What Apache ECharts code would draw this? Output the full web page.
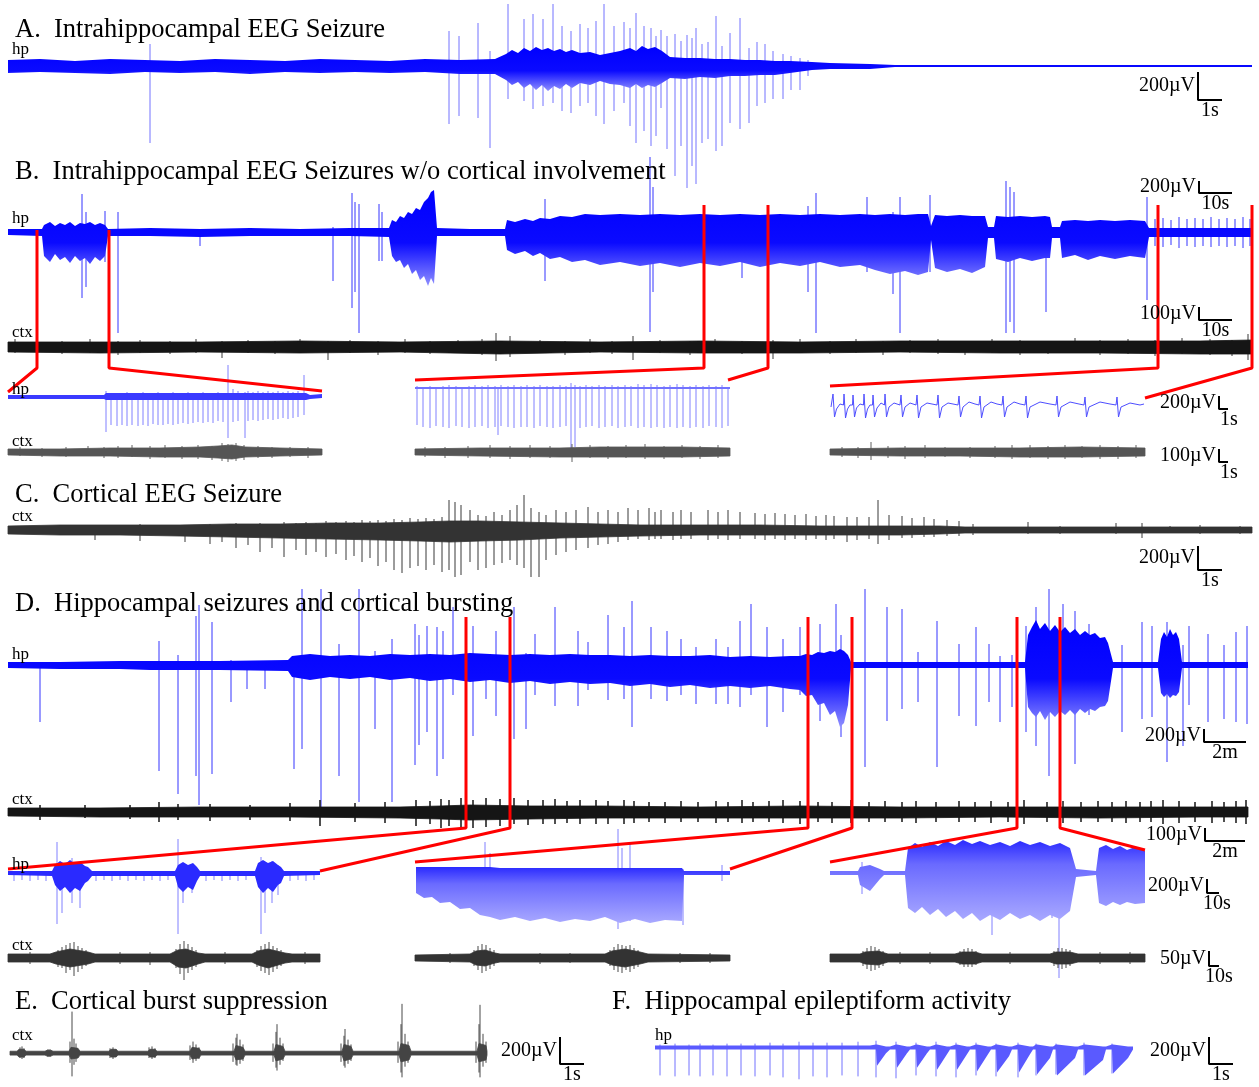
<!DOCTYPE html>
<html><head><meta charset="utf-8">
<script src="https://cdn.jsdelivr.net/npm/echarts@6/dist/echarts.min.js"></script>
<style>html,body{margin:0;padding:0;background:#fff}#c{width:1259px;height:1087px}</style>
</head><body><div id="c"></div><script>
// ================= DATA (time in trace units, amplitude up = positive) =================
// A: intrahippocampal seizure  [t, upper, lower]
const aHpEnv = [[8,6,-7],[40,7,-6],[75,5,-7],[110,7,-8],[145,6,-6],[180,5,-7],[215,7,-6],[250,6,-8],[285,5,-6],[320,7,-7],[355,6,-6],[390,5,-7],[425,7,-6],[460,6,-8],[495,7,-8],[506,12,-14],[512,16,-19],[518,13,-16],[524,18,-22],[530,15,-18],[536,19,-24],[542,16,-19],[548,18,-25],[554,15,-20],[560,17,-23],[566,14,-18],[572,16,-22],[580,13,-17],[590,14,-19],[600,11,-15],[610,13,-18],[620,15,-19],[630,18,-22],[636,15,-18],[642,20,-22],[648,17,-19],[655,19,-21],[662,15,-17],[670,9,-12],[685,8,-13],[700,8,-11],[715,7,-12],[730,7,-10],[745,6,-10],[760,6,-9],[775,5,-9],[790,5,-7],[812,4,-4],[830,3,-3],[870,2,-3],[895,1,-1],[1252,1,-1]];
const aHpSpikes = [[150,22,-77],[449,35,-58],[459,30,-50],[478,43,-52],[490,15,-82],[508,62,-33],[524,47,-35],[533,52,-43],[543,47,-40],[553,62,-37],[562,40,-45],[571,35,-47],[580,42,-40],[588,38,-37],[596,45,-50],[604,62,-58],[614,40,-45],[624,44,-37],[630,38,-60],[636,53,-77],[644,40,-65],[651,38,-80],[656,30,-70],[661,36,-42],[667,30,-83],[675,32,-110],[681,25,-80],[687,31,-122],[692,28,-100],[696,38,-118],[702,22,-77],[708,24,-73],[716,50,-85],[722,20,-80],[730,33,-57],[740,48,-63],[749,18,-57],[757,24,-40],[765,22,-37],[773,15,-33],[783,12,-33],[791,10,-24],[800,8,-24],[808,6,-10]];
// B: hp + ctx overview
const bHpEnv = [[8,3,-3],[42,3,-4],[44,7,-24],[50,10,-30],[55,6,-22],[60,9,-28],[65,7,-25],[70,10,-31],[75,6,-24],[80,9,-29],[85,8,-26],[90,10,-32],[95,7,-25],[100,9,-29],[105,7,-24],[108,3,-4],[150,4,-4],[200,3,-5],[250,4,-4],[300,3,-4],[350,4,-4],[389,4,-5],[392,12,-24],[396,10,-30],[400,16,-28],[404,14,-36],[408,20,-32],[412,18,-42],[416,24,-38],[420,22,-48],[424,30,-44],[428,34,-54],[431,40,-46],[434,42,-52],[437,4,-4],[470,3,-4],[505,3,-4],[507,12,-18],[515,10,-22],[525,13,-19],[533,11,-24],[540,14,-21],[550,13,-27],[560,16,-25],[572,15,-30],[585,18,-28],[600,17,-33],[620,18,-30],[640,17,-34],[660,18,-31],[680,17,-35],[700,18,-31],[720,17,-34],[740,18,-30],[760,17,-35],[780,18,-31],[800,17,-34],[820,18,-30],[840,17,-35],[860,18,-33],[875,17,-38],[890,18,-42],[905,17,-39],[918,18,-43],[928,18,-40],[931,6,-8],[935,17,-36],[947,16,-40],[960,17,-37],[972,16,-41],[985,16,-35],[988,5,-6],[994,5,-6],[996,16,-27],[1008,15,-30],[1020,16,-26],[1032,15,-29],[1045,16,-26],[1050,15,-26],[1052,5,-6],[1060,5,-6],[1062,11,-26],[1075,12,-23],[1088,11,-28],[1100,12,-24],[1115,11,-27],[1130,12,-24],[1145,11,-26],[1149,4,-5],[1252,4,-5]];
const bHpSpikes = [[82,38,-66],[86,20,-55],[105,21,-30],[118,20,-101],[200,3,-14],[333,5,-49],[352,39,-76],[355,30,-60],[359,28,-101],[379,28,-29],[382,20,-29],[545,33,-49],[650,75,-100],[653,45,-60],[742,10,-46],[808,26,-60],[816,39,-101],[867,35,-40],[893,20,-62],[900,35,-101],[930,37,-40],[1006,51,-101],[1010,45,-90],[1014,40,-101],[1046,15,-80],[1147,35,-68],[1155,13,-14],[1163,14,-15],[1171,12,-13],[1179,15,-16],[1187,13,-14],[1195,14,-15],[1203,13,-14],[1211,15,-15],[1219,13,-14],[1227,14,-15],[1235,13,-14],[1243,15,-16],[1250,13,-14]];
const bCtxEnv = [[8,5,-5],[100,5,-6],[200,5,-5],[300,6,-6],[400,5,-5],[500,6,-7],[600,5,-5],[700,6,-6],[800,5,-6],[900,6,-5],[1000,6,-6],[1100,6,-6],[1200,6,-7],[1252,7,-7]];
const bCtxSpikes = [[15,8,-6],[37,7,-9],[62,6,-7],[90,8,-6],[118,6,-8],[140,7,-6],[170,6,-7],[196,8,-6],[222,6,-11],[248,7,-6],[275,6,-7],[300,8,-6],[328,6,-13],[350,7,-6],[378,6,-8],[405,8,-6],[430,6,-7],[458,7,-6],[482,8,-8],[496,14,-14],[510,11,-10],[540,7,-6],[565,6,-8],[590,8,-6],[612,6,-7],[633,11,-13],[660,7,-6],[690,6,-8],[715,8,-6],[742,6,-7],[773,7,-12],[800,8,-6],[830,6,-7],[856,8,-6],[883,6,-8],[910,7,-6],[938,8,-7],[965,6,-8],[992,8,-6],[1020,7,-8],[1048,6,-7],[1075,9,-6],[1100,7,-8],[1128,8,-7],[1155,7,-9],[1182,9,-7],[1210,8,-8],[1232,7,-9],[1248,13,-13]];
// B: zoomed windows
const b1HpEnv = [[8,2,-2],[104,2,-2],[106,4,-3],[306,4,-3],[310,2,-2],[322,3,-1]];
const b1HpSpikes = [[106,6,-35],[111,4,-28],[117,4,-29],[122,4,-28],[127,5,-29],[132,4,-28],[138,4,-29],[143,5,-28],[148,4,-29],[153,4,-27],[158,5,-28],[163,4,-28],[168,4,-27],[173,5,-28],[178,4,-27],[183,4,-26],[188,5,-27],[193,4,-26],[198,4,-25],[203,5,-26],[208,4,-25],[213,4,-26],[218,5,-24],[223,4,-25],[228,32,-41],[233,8,-25],[238,6,-24],[245,5,-41],[248,6,-24],[253,5,-23],[258,6,-24],[263,5,-23],[268,6,-22],[273,5,-23],[278,6,-22],[283,5,-21],[288,6,-22],[293,5,-21],[298,6,-20],[304,22,-18]];
const b2HpEnv = [[415,10,8],[730,10,8]];
const b2HpSpikes = [[417,11,-28],[423,10,-30],[430,11,-31],[436,10,-29],[443,11,-30],[449,12,-31],[456,11,-29],[462,10,-30],[469,11,-31],[475,12,-30],[482,11,-29],[488,12,-31],[495,11,-30],[498,10,-38],[501,12,-29],[508,11,-30],[514,12,-31],[521,11,-30],[527,12,-30],[534,11,-31],[540,12,-29],[547,11,-30],[553,11,-31],[560,12,-30],[566,11,-29],[571,14,-53],[575,12,-50],[580,11,-31],[586,12,-30],[592,11,-29],[599,12,-31],[605,11,-30],[612,12,-29],[618,11,-31],[625,12,-30],[631,11,-29],[638,13,-31],[644,12,-30],[651,13,-31],[657,12,-30],[664,11,-31],[670,12,-30],[677,13,-31],[683,12,-30],[690,11,-31],[696,12,-30],[703,11,-31],[709,12,-29],[716,11,-30],[722,12,-31],[728,10,-29]];
const b3HpLine = [[831,-2],[833,11],[834.5,-12],[836.5,-4],[840,1],[843.5,0],[844,11],[845.5,-13],[847.5,-4],[850,0],[852.5,0],[853,10],[854.5,-12],[856.5,-3],[860,1],[863.5,0],[864,11],[865.5,-13],[867.5,-4],[870,0],[872.5,0],[873,10],[874.5,-12],[877,-3],[881,2],[884.5,0],[885,11],[886.5,-12],[889,-2],[894,2],[900,0],[901,10],[902.5,-12],[905,-2],[910,2],[916,0],[917,10],[918.5,-13],[921,-2],[927,2],[932,1],[937,0],[938,10],[939.5,-13],[942,-2],[948,2],[953,1],[958,0],[959,9],[960.5,-12],[963,-2],[969,3],[975,1],[979,0],[980,9],[981.5,-13],[984,-2],[991,3],[997,1],[1002,0],[1003,9],[1004.5,-12],[1007,-2],[1014,3],[1020,1],[1025,0],[1026,9],[1027.5,-13],[1030,-2],[1040,3],[1050,1],[1056,0],[1057,9],[1058.5,-12],[1061,-2],[1070,3],[1079,1],[1084,0],[1085,8],[1086.5,-12],[1089,-2],[1100,3],[1110,1],[1116,0],[1117,8],[1118.5,-12],[1121,-2],[1130,2],[1140,0],[1144,1]];
const b1CtxEnv = [[8,3,-3],[60,3,-4],[110,4,-4],[160,4,-5],[200,5,-5],[218,6,-6],[232,7,-7],[245,5,-5],[280,4,-4],[322,3,-3]];
const b1CtxSpikes = [[20,5,-4],[42,4,-5],[66,5,-5],[88,6,-4],[104,5,-6],[118,6,-6],[132,7,-5],[150,6,-7],[165,7,-6],[182,6,-7],[198,7,-7],[212,6,-8],[222,9,-9],[228,8,-10],[236,9,-9],[244,7,-8],[258,6,-6],[272,5,-6],[290,5,-5],[308,5,-6]];
const b2CtxEnv = [[415,3,-3],[480,4,-4],[560,4,-5],[600,5,-5],[680,5,-5],[730,4,-4]];
const b2CtxSpikes = [[425,5,-5],[445,5,-6],[468,6,-6],[490,7,-6],[510,6,-7],[530,7,-6],[550,6,-6],[572,8,-10],[590,7,-6],[608,6,-7],[626,7,-6],[645,8,-7],[664,6,-7],[682,7,-6],[700,6,-7],[718,7,-6]];
const b3CtxEnv = [[830,3,-3],[900,4,-4],[960,4,-4],[1020,4,-5],[1080,5,-5],[1145,4,-4]];
const b3CtxSpikes = [[842,5,-5],[858,5,-6],[871,10,-8],[888,6,-6],[905,6,-7],[925,7,-6],[945,5,-5],[970,5,-6],[995,6,-6],[1012,7,-7],[1030,7,-6],[1048,6,-7],[1065,7,-7],[1082,6,-6],[1100,7,-7],[1118,6,-7],[1136,7,-6]];
// C: cortical seizure
const cCtxEnv = [[8,4,-4],[60,5,-5],[120,5,-5],[180,5,-6],[230,6,-7],[280,6,-8],[330,7,-9],[380,7,-10],[420,8,-11],[450,9,-12],[480,9,-11],[520,8,-10],[560,7,-8],[600,6,-7],[640,5,-6],[700,5,-5],[760,5,-5],[820,4,-5],[870,4,-5],[900,4,-5],[940,4,-4],[965,3,-3],[1252,3,-3]];
const cCtxSpikes = [[95,4,-10],[140,6,-11],[185,5,-12],[210,6,-14],[222,5,-12],[236,7,-18],[248,6,-15],[260,7,-22],[272,6,-18],[284,8,-27],[296,7,-20],[306,8,-25],[316,7,-22],[326,9,-27],[336,8,-24],[346,9,-30],[354,8,-26],[362,10,-32],[370,9,-28],[378,10,-36],[386,9,-32],[394,11,-40],[402,10,-43],[410,12,-38],[418,11,-36],[426,12,-40],[434,11,-35],[442,13,-42],[449,30,-40],[455,28,-47],[461,25,-45],[470,20,-32],[478,15,-40],[486,14,-38],[494,18,-35],[502,15,-33],[510,20,-30],[517,25,-35],[524,35,-38],[531,22,-47],[539,18,-47],[546,15,-30],[556,20,-25],[566,18,-22],[576,20,-20],[588,23,-18],[598,18,-15],[608,20,-14],[618,18,-12],[628,22,-10],[638,20,-9],[649,22,-10],[655,18,-9],[661,20,-9],[673,18,-10],[681,20,-9],[691,18,-9],[708,20,-10],[718,18,-9],[728,20,-10],[740,18,-9],[755,17,-9],[765,16,-10],[775,17,-9],[785,16,-10],[795,15,-9],[806,16,-10],[816,14,-9],[826,15,-10],[834,14,-9],[847,13,-12],[857,13,-10],[869,13,-9],[878,30,-14],[889,15,-10],[902,14,-8],[912,12,-8],[924,13,-7],[934,11,-7],[947,10,-6],[959,9,-6],[973,6,-5],[1028,8,-4],[1060,4,-4],[1116,7,-4],[1142,7,-8],[1170,4,-3],[1200,5,-4],[1240,4,-4]];
// D: hp seizures + ctx bursting
const dHpEnv = [[8,3,-3],[60,3,-4],[120,4,-4],[150,4,-5],[220,4,-5],[288,5,-6],[292,9,-12],[310,11,-15],[330,9,-12],[350,10,-14],[370,9,-12],[390,11,-15],[410,10,-13],[430,11,-16],[450,10,-14],[470,12,-17],[490,11,-15],[510,10,-18],[530,11,-16],[550,10,-19],[570,11,-17],[590,10,-19],[610,10,-18],[630,9,-21],[650,10,-19],[670,9,-22],[690,9,-20],[710,10,-23],[730,8,-21],[750,9,-23],[770,8,-21],[790,9,-24],[800,9,-25],[806,11,-31],[812,10,-30],[818,13,-40],[824,12,-38],[830,14,-50],[835,13,-46],[840,16,-62],[844,14,-58],[848,10,-40],[851,3,-3],[1025,3,-3],[1028,30,-42],[1032,38,-48],[1036,45,-52],[1040,36,-46],[1045,42,-55],[1050,34,-47],[1055,40,-52],[1060,33,-46],[1065,38,-50],[1070,32,-45],[1075,36,-50],[1080,30,-44],[1085,34,-48],[1090,30,-44],[1095,32,-46],[1100,27,-42],[1105,28,-41],[1108,22,-36],[1113,3,-3],[1158,3,-3],[1161,26,-28],[1164,33,-32],[1167,28,-29],[1170,36,-33],[1173,30,-30],[1176,33,-31],[1179,26,-27],[1182,3,-3],[1248,3,-3]];
const dHpSpikes = [[40,2,-57],[159,24,-106],[178,10,-129],[196,49,-111],[199,60,-140],[212,43,-109],[231,5,-37],[247,4,-24],[265,4,-24],[294,9,-104],[302,76,-84],[321,76,-145],[339,21,-111],[359,76,-137],[375,14,-64],[392,26,-137],[415,41,-100],[419,30,-80],[427,39,-67],[437,38,-111],[443,34,-94],[453,58,-30],[473,39,-71],[486,10,-34],[496,34,-51],[514,58,-74],[526,12,-64],[535,31,-30],[555,58,-41],[578,34,-41],[588,23,-25],[608,50,-35],[624,38,-34],[632,64,-62],[651,38,-34],[667,34,-36],[681,26,-30],[696,18,-39],[716,26,-39],[728,18,-39],[740,44,-42],[751,61,-30],[767,38,-62],[783,26,-47],[800,38,-30],[820,41,-56],[836,61,-40],[841,30,-72],[865,76,-102],[887,58,-56],[902,56,-44],[918,13,-37],[937,44,-102],[959,21,-51],[976,38,-61],[989,21,-37],[1000,9,-57],[1012,10,-42],[1026,39,-67],[1036,58,-81],[1049,76,-111],[1063,61,-40],[1075,54,-99],[1089,41,-50],[1122,20,-67],[1142,43,-54],[1152,39,-52],[1167,43,-97],[1183,20,-81],[1189,39,-40],[1208,31,-57],[1224,20,-54],[1236,33,-57],[1247,39,-59]];
const dCtxEnv = [[8,4,-4],[100,4,-5],[200,5,-5],[290,5,-5],[400,5,-6],[440,6,-7],[470,7,-8],[530,6,-7],[600,6,-6],[700,5,-6],[800,6,-6],[900,5,-6],[1000,5,-5],[1100,5,-6],[1200,5,-5],[1248,5,-5]];
const dCtxSpikes = [[40,7,-8],[85,7,-6],[130,7,-7],[159,10,-10],[178,8,-8],[210,8,-9],[250,7,-8],[290,9,-9],[320,12,-14],[355,9,-10],[385,10,-11],[416,12,-14],[430,11,-12],[441,13,-16],[449,12,-14],[461,14,-16],[473,12,-16],[486,14,-15],[500,13,-14],[514,14,-12],[528,12,-13],[543,12,-12],[555,13,-12],[567,11,-11],[580,12,-12],[596,12,-12],[608,11,-12],[624,12,-12],[634,11,-11],[649,10,-10],[665,10,-11],[681,11,-10],[698,10,-10],[716,11,-11],[728,10,-10],[742,12,-11],[753,10,-10],[769,11,-10],[783,12,-11],[800,11,-12],[818,10,-10],[832,10,-11],[851,12,-11],[869,10,-10],[885,11,-10],[902,10,-10],[916,11,-11],[936,10,-10],[959,11,-10],[975,10,-10],[991,11,-11],[1008,10,-10],[1024,12,-12],[1047,10,-10],[1063,11,-11],[1081,10,-10],[1098,11,-10],[1112,10,-10],[1126,11,-11],[1140,10,-10],[1151,11,-10],[1163,12,-12],[1179,11,-11],[1195,10,-10],[1212,11,-11],[1224,10,-10],[1236,11,-11],[1246,12,-12]];
const d1HpEnv = [[8,2,-2],[52,2,-3],[55,8,-12],[60,12,-18],[65,9,-14],[70,13,-20],[75,9,-15],[80,11,-18],[85,7,-10],[88,6,-8],[92,2,-3],[175,2,-3],[178,8,-14],[183,11,-19],[188,8,-14],[193,10,-17],[197,6,-8],[200,2,-3],[255,2,-3],[258,10,-14],[263,13,-20],[268,10,-15],[273,12,-19],[278,8,-12],[281,6,-10],[284,2,-3],[320,2,-2]];
const d1HpSpikes = [[14,2,-8],[22,2,-7],[30,2,-8],[38,2,-7],[46,2,-8],[57,31,-51],[62,10,-40],[72,15,-30],[80,8,-35],[96,2,-8],[104,2,-7],[112,2,-8],[120,2,-7],[128,2,-8],[136,2,-7],[144,2,-8],[152,2,-7],[160,2,-8],[168,2,-7],[178,34,-61],[183,10,-30],[192,8,-20],[206,2,-8],[214,2,-7],[222,2,-8],[230,2,-7],[238,2,-8],[246,2,-7],[261,16,-61],[265,10,-40],[272,12,-30],[278,8,-22],[290,2,-8],[298,2,-7],[306,2,-8],[314,2,-7]];
const d2HpEnv = [[416,6,-20],[424,6,-25],[432,6,-24],[440,6,-30],[450,6,-29],[460,6,-36],[470,6,-35],[480,6,-42],[490,6,-44],[500,5,-47],[515,5,-44],[530,5,-48],[545,5,-45],[560,5,-49],[575,5,-46],[590,5,-48],[605,5,-44],[620,5,-50],[635,5,-46],[650,5,-50],[665,5,-47],[682,5,-48],[684,2,-2],[730,2,-2]];
const d2HpSpikes = [[485,31,-30],[490,20,-40],[618,44,-56],[622,25,-40],[630,30,-48],[683,4,-52],[722,8,-8]];
const d3HpEnv = [[830,2,-2],[858,2,-2],[860,6,-12],[870,8,-18],[880,4,-6],[884,2,-2],[905,2,-2],[908,25,-35],[915,30,-40],[922,26,-34],[930,31,-42],[938,27,-36],[946,32,-44],[955,28,-38],[963,33,-46],[972,29,-40],[980,32,-48],[990,28,-42],[1000,31,-47],[1010,27,-40],[1020,32,-46],[1030,28,-42],[1040,31,-48],[1050,27,-42],[1060,30,-46],[1070,25,-38],[1076,4,-4],[1096,2,-2],[1099,25,-30],[1106,28,-33],[1113,24,-29],[1120,27,-32],[1127,23,-29],[1135,26,-31],[1145,22,-30]];
const d3HpSpikes = [[862,11,-21],[992,10,-62],[1052,10,-45],[1059,15,-105]];
const d1CtxEnv = [[8,4,-4],[50,4,-4],[56,6,-6],[70,9,-9],[88,6,-6],[95,4,-4],[170,4,-4],[178,8,-9],[186,9,-10],[198,5,-6],[205,4,-4],[252,4,-4],[258,7,-7],[268,9,-10],[285,5,-5],[292,4,-4],[320,4,-4]];
const d1CtxSpikes = [[30,6,-6],[58,8,-9],[62,11,-10],[66,13,-15],[70,15,-12],[74,16,-18],[78,12,-14],[82,10,-11],[86,8,-8],[120,6,-6],[150,6,-7],[176,9,-10],[180,14,-16],[184,17,-22],[188,14,-15],[192,11,-12],[196,8,-9],[225,6,-6],[257,8,-9],[261,12,-13],[265,14,-15],[269,16,-17],[273,12,-14],[277,10,-11],[281,8,-8],[305,6,-6]];
const d2CtxEnv = [[415,3,-3],[470,4,-4],[476,7,-7],[485,8,-8],[495,5,-5],[500,4,-4],[605,4,-4],[612,7,-7],[625,9,-9],[640,6,-6],[648,4,-4],[730,3,-3]];
const d2CtxSpikes = [[450,5,-5],[474,8,-8],[478,12,-12],[482,14,-15],[486,13,-13],[490,10,-11],[494,8,-8],[540,5,-6],[570,5,-5],[610,8,-8],[614,11,-12],[618,14,-14],[622,13,-15],[626,12,-12],[630,13,-14],[634,10,-11],[638,8,-9],[680,5,-5],[710,5,-5]];
const d3CtxEnv = [[830,4,-4],[860,4,-4],[865,6,-6],[878,7,-7],[888,4,-4],[955,4,-4],[962,6,-6],[975,6,-6],[982,4,-4],[1050,4,-4],[1056,6,-6],[1070,6,-6],[1078,4,-4],[1145,4,-4]];
const d3CtxSpikes = [[863,7,-8],[867,10,-11],[871,12,-13],[875,11,-12],[879,9,-10],[883,7,-8],[900,6,-6],[930,6,-6],[960,7,-7],[964,9,-9],[968,10,-9],[972,9,-9],[976,7,-7],[1010,6,-6],[1054,7,-8],[1058,10,-10],[1062,10,-11],[1066,9,-10],[1070,8,-8],[1100,6,-6],[1130,6,-6]];
// E: cortical burst suppression
const eCtxEnv = [[10,2,-2],[17,2,-2],[19,4,-4],[24,4,-4],[26,2,-2],[45,2,-2],[47,3,-3],[51,3,-3],[53,2,-2],[69,2,-2],[71,6,-6],[78,5,-5],[80,2,-2],[109,2,-2],[111,4,-4],[116,4,-4],[118,2,-2],[148,2,-2],[150,4,-4],[155,4,-4],[157,2,-2],[190,2,-2],[192,6,-6],[199,5,-5],[201,2,-2],[234,2,-2],[236,8,-7],[243,6,-6],[245,2,-2],[274,2,-2],[276,9,-8],[283,7,-6],[285,2,-2],[342,2,-2],[344,9,-8],[351,7,-6],[353,2,-2],[399,2,-2],[401,10,-9],[409,8,-7],[411,2,-2],[477,2,-2],[479,10,-9],[486,8,-7],[487,2,-2]];
const eCtxSpikes = [[20,6,-5],[22,7,-6],[24,5,-5],[48,4,-4],[50,4,-4],[70,12,-10],[72,43,-24],[74,15,-12],[76,10,-9],[110,5,-5],[113,6,-6],[116,4,-4],[149,6,-5],[152,7,-6],[155,5,-5],[190,8,-7],[193,12,-10],[196,9,-8],[199,6,-6],[233,10,-9],[236,16,-12],[237,20,-13],[240,14,-11],[243,9,-8],[273,10,-9],[276,22,-15],[277,30,-18],[280,16,-12],[283,10,-8],[341,10,-9],[344,18,-13],[345,25,-15],[348,14,-11],[351,9,-8],[398,12,-10],[401,30,-20],[402,51,-25],[405,20,-14],[408,12,-10],[476,12,-10],[479,30,-20],[480,50,-25],[483,20,-14],[486,12,-10]];
// F: hippocampal epileptiform activity
const fHpEnv = [[655,3,-1],[870,3,-1],[876,4,-1],[877,4,-18],[886,2,-5],[890,2,-1],[896,4,-1],[897,4,-20],[907,2,-5],[910,2,-1],[916,4,-1],[917,4,-20],[927,2,-5],[930,2,-1],[936,4,-1],[937,4,-22],[947,2,-6],[950,2,-1],[956,4,-1],[957,4,-22],[967,2,-6],[970,2,-1],[976,4,-1],[977,4,-24],[988,2,-6],[991,2,-1],[996,4,-1],[997,4,-25],[1009,2,-8],[1012,2,-1],[1018,4,-1],[1019,4,-25],[1030,2,-6],[1033,2,-1],[1036,4,-1],[1037,4,-27],[1050,2,-10],[1053,2,-1],[1056,4,-1],[1057,4,-28],[1075,2,-10],[1078,2,-1],[1084,4,-1],[1085,4,-28],[1103,2,-12],[1106,2,-1],[1112,4,-1],[1113,4,-26],[1128,2,-10],[1133,2,-1]];
const fHpSpikes = [[660,4,-28],[675,5,-29],[689,4,-28],[700,5,-29],[713,4,-28],[727,5,-29],[741,5,-28],[755,5,-29],[770,6,-28],[783,5,-30],[799,7,-32],[813,6,-29],[827,6,-30],[842,6,-28],[858,7,-29],[876,8,-30],[896,7,-31],[916,6,-28],[936,7,-29],[956,6,-30],[976,6,-28],[996,5,-29],[1018,6,-30],[1036,5,-28],[1056,5,-27],[1084,6,-28],[1112,5,-26]];
// Zoom-window connectors and calibration bars (figure coordinates)
const connectorsB = [[[37,230],[37,368],[8,392]],[[109,230],[109,368],[322,391]],[[704,205],[704,368],[415,380]],[[768,205],[768,368],[728,380]],[[1158,205],[1158,368],[830,386]],[[1252,205],[1252,368],[1145,398]]];
const connectorsD = [[[466,617],[466,828],[8,869]],[[510,617],[510,828],[320,871]],[[808,617],[808,828],[415,862]],[[852,617],[852,828],[730,869]],[[1017,617],[1017,828],[830,862]],[[1060,617],[1060,828],[1145,850]]];
const scaleBars = [[[1198,72],[1198,100],[1222,100]],[[1199,181],[1199,193],[1232,193]],[[1199,307],[1199,320],[1232,320]],[[1219,396],[1219,409],[1228,409]],[[1219,449],[1219,462],[1228,462]],[[1198,546],[1198,570],[1222,570]],[[1204,729],[1204,742],[1246,742]],[[1205,828],[1205,841],[1245,841]],[[1207,879],[1207,893],[1219,893]],[[1209,951],[1209,966],[1219,966]],[[560,1037],[560,1064],[584,1064]],[[1209,1037],[1209,1064],[1233,1064]]];
const scaleLabels = [['200\u00B5V','1s'],['200\u00B5V','10s'],['100\u00B5V','10s'],['200\u00B5V','1s'],['100\u00B5V','1s'],['200\u00B5V','1s'],['200\u00B5V','2m'],['100\u00B5V','2m'],['200\u00B5V','10s'],['50\u00B5V','10s'],['200\u00B5V','1s'],['200\u00B5V','1s']];
const titles = ['A.  Intrahippocampal EEG Seizure','B.  Intrahippocampal EEG Seizures w/o cortical involvement','C.  Cortical EEG Seizure','D.  Hippocampal seizures and cortical bursting','E.  Cortical burst suppression','F.  Hippocampal epileptiform activity'];
const channelNames = ['hp','hp','ctx','hp','ctx','ctx','hp','ctx','hp','ctx','ctx','hp'];

// ================= LAYOUT =================
const panels = [
 {x0:8,x1:1252,base:66,up:66,down:125},
 {x0:8,x1:1252,base:232,up:80,down:105},
 {x0:8,x1:1252,base:347,up:20,down:20},
 {x0:8,x1:322,base:397,up:35,down:60},
 {x0:415,x1:730,base:397,up:20,down:60},
 {x0:830,x1:1145,base:405,up:15,down:15},
 {x0:8,x1:322,base:452,up:12,down:12},
 {x0:415,x1:730,base:452,up:12,down:12},
 {x0:830,x1:1145,base:452,up:12,down:12},
 {x0:8,x1:1252,base:530,up:40,down:50},
 {x0:8,x1:1248,base:665,up:80,down:170},
 {x0:8,x1:1248,base:812,up:20,down:20},
 {x0:8,x1:320,base:873,up:40,down:70},
 {x0:415,x1:730,base:873,up:50,down:60},
 {x0:830,x1:1145,base:873,up:40,down:110},
 {x0:8,x1:320,base:958,up:20,down:25},
 {x0:415,x1:730,base:958,up:20,down:25},
 {x0:830,x1:1145,base:958,up:20,down:25},
 {x0:10,x1:487,base:1055,up:55,down:35},
 {x0:655,x1:1133,base:1049,up:15,down:40}
];
const BLUE='#0000ff', MID='#3535ff', LIGHT='#7272ff', CTXC='#151515', GRAYC='#3a3a3a';
const G = (a,b,c,s)=>new echarts.graphic.LinearGradient(0,0,0,1,[{offset:0,color:a},{offset:s,color:b},{offset:1,color:c}]);
const hpGrad = G('#0000ff','#0a0aff','#8f8fff',0.55);
const lightGrad = G('#2a2aff','#6a6aff','#a9a9ff',0.3);

const layers = [
 {p:0,t:'spk',d:aHpSpikes,c:LIGHT,w:1},{p:0,t:'env',d:aHpEnv,f:hpGrad},
 {p:1,t:'spk',d:bHpSpikes,c:MID,w:1},{p:1,t:'env',d:bHpEnv,f:hpGrad},
 {p:2,t:'spk',d:bCtxSpikes,c:'#222',w:0.9},{p:2,t:'env',d:bCtxEnv,f:CTXC,s:CTXC},
 {p:3,t:'spk',d:b1HpSpikes,c:LIGHT,w:0.9},{p:3,t:'env',d:b1HpEnv,f:'#3a3aff'},
 {p:4,t:'spk',d:b2HpSpikes,c:LIGHT,w:0.9},{p:4,t:'env',d:b2HpEnv,f:LIGHT},
 {p:5,t:'line',d:b3HpLine,c:'#4d4dff',w:1},
 {p:6,t:'spk',d:b1CtxSpikes,c:GRAYC,w:0.8},{p:6,t:'env',d:b1CtxEnv,f:'#555',s:'#555'},
 {p:7,t:'spk',d:b2CtxSpikes,c:GRAYC,w:0.8},{p:7,t:'env',d:b2CtxEnv,f:'#555',s:'#555'},
 {p:8,t:'spk',d:b3CtxSpikes,c:GRAYC,w:0.8},{p:8,t:'env',d:b3CtxEnv,f:'#555',s:'#555'},
 {p:9,t:'spk',d:cCtxSpikes,c:'#222',w:0.9},{p:9,t:'env',d:cCtxEnv,f:'#333',s:'#333'},
 {p:10,t:'spk',d:dHpSpikes,c:MID,w:1},{p:10,t:'env',d:dHpEnv,f:hpGrad},
 {p:11,t:'spk',d:dCtxSpikes,c:CTXC,w:1.5},{p:11,t:'env',d:dCtxEnv,f:CTXC,s:CTXC},
 {p:12,t:'spk',d:d1HpSpikes,c:LIGHT,w:0.9},{p:12,t:'env',d:d1HpEnv,f:'#2a2aff'},
 {p:13,t:'spk',d:d2HpSpikes,c:LIGHT,w:0.9},{p:13,t:'env',d:d2HpEnv,f:lightGrad},
 {p:14,t:'spk',d:d3HpSpikes,c:LIGHT,w:0.9},{p:14,t:'env',d:d3HpEnv,f:lightGrad},
 {p:15,t:'spk',d:d1CtxSpikes,c:'#333',w:0.9},{p:15,t:'env',d:d1CtxEnv,f:'#333',s:'#333'},
 {p:16,t:'spk',d:d2CtxSpikes,c:'#333',w:0.9},{p:16,t:'env',d:d2CtxEnv,f:'#333',s:'#333'},
 {p:17,t:'spk',d:d3CtxSpikes,c:'#333',w:0.9},{p:17,t:'env',d:d3CtxEnv,f:'#333',s:'#333'},
 {p:18,t:'spk',d:eCtxSpikes,c:'#333',w:0.9},{p:18,t:'env',d:eCtxEnv,f:'#444',s:'#444'},
 {p:19,t:'spk',d:fHpSpikes,c:LIGHT,w:1},{p:19,t:'env',d:fHpEnv,f:'#5a5aff'}
];

function envRender(fill, stroke){
  return function(params, api){
    if (params.dataIndexInside !== 0) return null;
    const n = params.dataInsideLength, top=[], bot=[];
    for (let j=0;j<n;j++){ const x=api.value(0,j); top.push(api.coord([x,api.value(1,j)])); bot.push(api.coord([x,api.value(2,j)])); }
    return {type:'polygon', shape:{points: top.concat(bot.reverse())}, style:{fill, stroke: stroke||null, lineWidth: stroke?0.8:0}};
  };
}
function spikeRender(color, w){
  return function(params, api){
    const a = api.coord([api.value(0), api.value(1)]), b = api.coord([api.value(0), api.value(2)]);
    return {type:'line', shape:{x1:a[0],y1:a[1],x2:b[0],y2:b[1]}, style:{stroke:color, lineWidth:w}};
  };
}

const grids=[], xAxes=[], yAxes=[], series=[];
panels.forEach(P=>{
  grids.push({left:P.x0, top:P.base-P.up, width:P.x1-P.x0, height:P.up+P.down, containLabel:false});
  const i = grids.length-1;
  xAxes.push({type:'value', gridIndex:i, min:P.x0, max:P.x1, show:false});
  yAxes.push({type:'value', gridIndex:i, min:-P.down, max:P.up, show:false});
});
grids.push({left:0, top:0, width:1259, height:1087});
const OV = grids.length-1;
xAxes.push({type:'value', gridIndex:OV, min:0, max:1259, show:false});
yAxes.push({type:'value', gridIndex:OV, min:0, max:1087, inverse:true, show:false});

layers.forEach(L=>{
  const base={xAxisIndex:L.p, yAxisIndex:L.p, silent:true, animation:false, data:L.d};
  if (L.t==='env') series.push(Object.assign(base,{type:'custom', z:3, renderItem:envRender(L.f, L.s)}));
  else if (L.t==='spk') series.push(Object.assign(base,{type:'custom', z:2, renderItem:spikeRender(L.c, L.w)}));
  else series.push(Object.assign(base,{type:'line', z:2, showSymbol:false, lineStyle:{color:L.c, width:L.w}}));
});
connectorsB.concat(connectorsD).forEach(pl=>series.push({type:'line', xAxisIndex:OV, yAxisIndex:OV, data:pl, showSymbol:false, silent:true, z:10, lineStyle:{color:'#ff0000', width:3}}));
scaleBars.forEach(pl=>series.push({type:'line', xAxisIndex:OV, yAxisIndex:OV, data:pl, showSymbol:false, silent:true, z:10, lineStyle:{color:'#000', width:2}}));

const SERIF='"Liberation Serif","Times New Roman",serif';
const graphic=[];
const titlePos=[[15,30],[15,172],[15,495],[15,604],[15,1002],[612,1002]];
titles.forEach((t,i)=>graphic.push({type:'text', x:titlePos[i][0], y:titlePos[i][1], z:20, style:{text:t, font:'26.5px '+SERIF, fill:'#000', textAlign:'left', textVerticalAlign:'middle'}}));
const chanPos=[[12,50],[12,219],[12,333],[12,390],[12,442],[12,517],[12,655],[12,800],[12,865],[12,946],[12,1036],[655,1036]];
channelNames.forEach((t,i)=>graphic.push({type:'text', x:chanPos[i][0], y:chanPos[i][1], z:20, style:{text:t, font:'17px '+SERIF, fill:'#000', textAlign:'left', textVerticalAlign:'middle'}}));
scaleBars.forEach((bar,i)=>{
  const vx=bar[0][0], vy=(bar[0][1]+bar[1][1])/2, hy=bar[2][1], hx=(bar[1][0]+bar[2][0])/2;
  graphic.push({type:'text', x:vx-3, y:vy, z:20, style:{text:scaleLabels[i][0], font:'20px '+SERIF, fill:'#000', textAlign:'right', textVerticalAlign:'middle'}});
  graphic.push({type:'text', x:Math.max(hx, vx+10), y:hy+11, z:20, style:{text:scaleLabels[i][1], font:'20px '+SERIF, fill:'#000', textAlign:'center', textVerticalAlign:'middle'}});
});

const chart = echarts.init(document.getElementById('c'), null, {renderer:'canvas'});
chart.setOption({animation:false, backgroundColor:'#fff', grid:grids, xAxis:xAxes, yAxis:yAxes, series, graphic});
</script></body></html>
